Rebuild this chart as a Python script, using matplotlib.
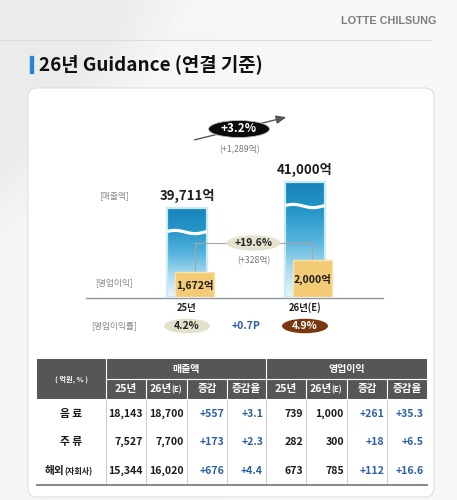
import numpy as np
import matplotlib
matplotlib.use('Agg')
import matplotlib.pyplot as plt
from matplotlib.patches import FancyBboxPatch, Ellipse, Rectangle
from matplotlib.colors import LinearSegmentedColormap

plt.rcParams['font.family'] = ['Noto Sans CJK KR', 'DejaVu Sans']

# ---------------- data ----------------
years = ['25년', '26년(E)']
revenue = [39711, 41000]          # 억원
op_profit = [1672, 2000]          # 억원

seg_names = ['음 료', '주 류', '해외']
seg_sub = ['', '', '(자회사)']
rev_25 = [18143, 7527, 15344]
rev_26 = [18700, 7700, 16020]
rev_chg = [557, 173, 676]
rev_rate = [3.1, 2.3, 4.4]
op_25 = [739, 282, 673]
op_26 = [1000, 300, 785]
op_chg = [261, 18, 112]
op_rate = [35.3, 6.5, 16.6]
sub_headers = ['25년', '26년', '증감', '증감율']

# ---------------- figure / canvas ----------------
W, H = 457, 500
fig = plt.figure(figsize=(W / 100, H / 100), dpi=100)
cv = fig.add_axes([0, 0, 1, 1])
cv.set_xlim(0, W)
cv.set_ylim(H, 0)
cv.axis('off')

# background
yy, xx = np.mgrid[0:H, 0:W]
d = np.sqrt((xx + 300.0) ** 2 + (yy + 200.0) ** 2)
bg = 0.92 + 0.04 * np.clip((d - 470) / 60, 0, 1) + 0.01 * (xx / W)
cv.imshow(bg, extent=[0, W, H, 0], cmap='gray', vmin=0, vmax=1,
          aspect='auto', zorder=0, interpolation='bilinear')
cv.set_xlim(0, W)
cv.set_ylim(H, 0)

cv.plot([0, 430], [39.5, 39.5], color='#dcdcdc', lw=0.8, zorder=1)
cv.text(436, 21, 'LOTTE CHILSUNG', ha='right', va='center', fontsize=7.8,
        color='#7d7d7d', fontweight='bold', family='Liberation Sans', zorder=2)

# title
cv.add_patch(Rectangle((30, 56), 2.6, 17, color='#2a83d6', zorder=2))
cv.text(39, 64.5, '26년 Guidance (연결 기준)', ha='left', va='center',
        fontsize=13.6, fontweight='bold', color='#111111', zorder=2)

# card
cv.add_patch(FancyBboxPatch((28, 88), 406, 409,
                            boxstyle='round,pad=0,rounding_size=9',
                            fc='white', ec='#e0e0e0', lw=0.8, zorder=1))

# ---------------- bar chart (broken-scale axes) ----------------
base_px, top_px = 297, 157
ax_l_px, ax_r_px = 150, 350
xlim = (-0.3136, 1.3814)
rev_slope = 26 / 1289.0           # px per 억원
rev_floor = 35299
prof_slope = 12 / 328.0
prof_floor = 989

pos = [ax_l_px / W, (H - base_px) / H, (ax_r_px - ax_l_px) / W, (base_px - top_px) / H]
axr = fig.add_axes(pos)
axp = fig.add_axes(pos)
for a in (axr, axp):
    a.axis('off')
    a.patch.set_alpha(0)
    a.set_xlim(*xlim)
axr.set_ylim(rev_floor, rev_floor + (base_px - top_px) / rev_slope)
axp.set_ylim(prof_floor, prof_floor + (base_px - top_px) / prof_slope)


def cat_px(x):
    return ax_l_px + (x - xlim[0]) / (xlim[1] - xlim[0]) * (ax_r_px - ax_l_px)


def prof_y(px):
    return prof_floor + (base_px - px) / prof_slope


xs = np.arange(len(years))
bw = 40 / 118.0
bar_cmap = LinearSegmentedColormap.from_list(
    'b', ['#e9f6fb', '#a9dbef', '#52b2dc', '#2696c9', '#1683ba'])
bars = axr.bar(xs, [v - rev_floor for v in revenue], bottom=rev_floor, width=bw,
               facecolor='none', edgecolor='#c9eaf1', lw=1.6, zorder=3)
grad = np.linspace(0, 1, 256).reshape(-1, 1)
for b, v in zip(bars, revenue):
    x0, w = b.get_x(), b.get_width()
    im = axr.imshow(grad, extent=[x0, x0 + w, rev_floor, v], origin='lower',
                    cmap=bar_cmap, aspect='auto', zorder=2, interpolation='bilinear')
    im.set_clip_path(b)
    # wave break
    t = np.linspace(0, 1, 60)
    yw = v - 24 / rev_slope + 1.6 / rev_slope * np.sin(2 * np.pi * t + 0.3)
    axr.plot(x0 + w * t, yw, color='white', lw=2.3, zorder=4, solid_capstyle='butt')
    axr.annotate(f'{v:,}억', xy=(b.get_x() + w / 2, v), xytext=(0, 8.6),
                 textcoords='offset points', ha='center', va='center',
                 fontsize=9.5, fontweight='bold', color='#1e1e1e')
axr.set_xlim(*xlim)
axr.set_ylim(rev_floor, rev_floor + (base_px - top_px) / rev_slope)

# operating profit boxes
off = 7.5 / 118.0
pw = 39 / 118.0
pbars = axp.bar(xs + off, [v - prof_floor for v in op_profit], bottom=prof_floor,
                width=pw, color='#f3cb74', edgecolor='#f8e2ae', lw=1.0, zorder=5)
for b, v in zip(pbars, op_profit):
    axp.text(b.get_x() + b.get_width() / 2, (prof_floor + v) / 2 - 0.5 / prof_slope,
             f'{v:,}억', ha='center', va='center', fontsize=7.5,
             fontweight='bold', color='#1e1e1e', zorder=6)

# connector between profit boxes
lvl = prof_y(243)
cx = xs + off
axp.plot([cx[0], cx[0], cx[1], cx[1]], [op_profit[0], lvl, lvl, op_profit[1]],
         color='#a6a6a6', lw=0.8, zorder=4)
mid = (cx[0] + cx[1]) / 2
axp.add_patch(Ellipse((mid, lvl), 54 / 118.0, 15.5 / prof_slope,
                      fc='#e5e3cf', ec='none', zorder=6))
op_growth = (op_profit[1] - op_profit[0]) / op_profit[0] * 100
axp.text(mid, lvl, f'+{op_growth:.1f}%', ha='center', va='center', fontsize=7.5,
         fontweight='bold', color='#222222', zorder=7)
axp.text(mid, prof_y(261), f'(+{op_profit[1] - op_profit[0]:,}억)', ha='center',
         va='center', fontsize=6.3, color='#777777', zorder=7)
axp.set_xlim(*xlim)
axp.set_ylim(prof_floor, prof_floor + (base_px - top_px) / prof_slope)

# baseline
cv.plot([86, 383], [base_px + 0.5, base_px + 0.5], color='#8a96a0', lw=1.0, zorder=3)

# category labels
for i, yl in enumerate(years):
    cv.text(cat_px(i), 308, yl, ha='center', va='center', fontsize=6.8,
            fontweight='bold', color='#222222', zorder=3)

# side labels
for txt, y in [('[매출액]', 196), ('[영업이익]', 283), ('[영업이익률]', 326)]:
    cv.text(114, y, txt, ha='center', va='center', fontsize=6.3,
            color='#8a8a8a', zorder=3)

# revenue growth arrow
rev_growth = (revenue[1] - revenue[0]) / revenue[0] * 100
cv.annotate('', xy=(289, 116.5), xytext=(192, 140.5),
            arrowprops=dict(arrowstyle='-|>,head_length=0.6,head_width=0.25',
                            color='#555555', lw=1.0), zorder=3)
cv.add_patch(Ellipse((239, 129), 61, 17, fc='#0b0b0b', ec='#bdbdbd', lw=0.6, zorder=4))
cv.text(239, 129, f'+{rev_growth:.1f}%', ha='center', va='center', fontsize=8.5,
        fontweight='bold', color='white', zorder=5)
cv.text(239, 150, f'(+{revenue[1] - revenue[0]:,}억)', ha='center', va='center',
        fontsize=6.3, color='#777777', zorder=5)

# margin row
margins = [p / r * 100 for p, r in zip(op_profit, revenue)]
m_fc = ['#e3e0cb', '#7a3811']
m_tc = ['#222222', 'white']
for i, m in enumerate(margins):
    x = cat_px(i)
    cv.add_patch(Ellipse((x, 326), 46, 14.5, fc=m_fc[i], ec='none', zorder=3))
    cv.text(x, 326, f'{m:.1f}%', ha='center', va='center', fontsize=7.5,
            fontweight='bold', color=m_tc[i], zorder=4)
cv.text((cat_px(0) + cat_px(1)) / 2, 326,
        f'+{round(margins[1], 1) - round(margins[0], 1):.1f}P', ha='center',
        va='center', fontsize=7.5, fontweight='bold', color='#2d5fa6', zorder=4)

# ---------------- table ----------------
edges = [37, 106, 146, 187, 227, 266, 306, 347, 387, 427]
h_top, h_mid, h_bot = 359, 378.5, 399
cv.add_patch(Rectangle((edges[0], h_top), edges[-1] - edges[0], h_bot - h_top,
                       fc='#565656', ec='none', zorder=3))
cv.plot([edges[1], edges[-1]], [h_mid, h_mid], color='white', lw=0.8, zorder=4)
for e in edges[1:-1]:
    y0 = h_top if e in (edges[1], edges[5]) else h_mid
    cv.plot([e, e], [y0, h_bot], color='white', lw=0.8, zorder=4)
cv.text((edges[0] + edges[1]) / 2, (h_top + h_bot) / 2, '( 억원, % )', ha='center',
        va='center', fontsize=5.2, color='white', fontweight='bold', zorder=5)
cv.text((edges[1] + edges[5]) / 2, (h_top + h_mid) / 2, '매출액', ha='center',
        va='center', fontsize=7.2, color='white', fontweight='bold', zorder=5)
cv.text((edges[5] + edges[9]) / 2, (h_top + h_mid) / 2, '영업이익', ha='center',
        va='center', fontsize=7.2, color='white', fontweight='bold', zorder=5)
hy = (h_mid + h_bot) / 2
for g in range(2):
    for k, sh in enumerate(sub_headers):
        c0, c1 = edges[1 + g * 4 + k], edges[2 + g * 4 + k]
        cx_ = (c0 + c1) / 2
        if k == 1:
            cv.text(cx_ + 5, hy, sh, ha='right', va='center', fontsize=7.6,
                    color='white', fontweight='bold', zorder=5)
            cv.text(cx_ + 5, hy + 0.8, '(E)', ha='left', va='center', fontsize=5.5,
                    color='white', fontweight='bold', zorder=5)
        else:
            cv.text(cx_, hy, sh, ha='center', va='center', fontsize=7.6,
                    color='white', fontweight='bold', zorder=5)

row_y = [414, 442, 471]
t_bot = 485
for e in edges[1:-1]:
    cv.plot([e, e], [h_bot, t_bot], color='#c4c4c4', lw=0.6, zorder=3)
cv.plot([edges[0], edges[-1]], [t_bot, t_bot], color='#8c8c8c', lw=1.5, zorder=4)

black, blue = '#1c1c1c', '#2d5fa6'
for r, y in enumerate(row_y):
    lx = (edges[0] + edges[1]) / 2
    if seg_sub[r]:
        cv.text(lx - 7, y, seg_names[r], ha='right', va='center', fontsize=7.7,
                fontweight='bold', color=black, zorder=5)
        cv.text(lx - 7, y + 0.6, seg_sub[r], ha='left', va='center', fontsize=5.8,
                fontweight='bold', color=black, zorder=5)
    else:
        cv.text(lx, y, seg_names[r], ha='center', va='center', fontsize=7.7,
                fontweight='bold', color=black, zorder=5)
    vals = [(f'{rev_25[r]:,}', black), (f'{rev_26[r]:,}', black),
            (f'+{rev_chg[r]:,}', blue), (f'+{rev_rate[r]:.1f}', blue),
            (f'{op_25[r]:,}', black), (f'{op_26[r]:,}', black),
            (f'+{op_chg[r]:,}', blue), (f'+{op_rate[r]:.1f}', blue)]
    for k, (s, c) in enumerate(vals):
        cv.text(edges[k + 2] - 3, y, s, ha='right', va='center', fontsize=7.6,
                fontweight='bold', color=c, zorder=5)

fig.savefig('out.png', dpi=100)
